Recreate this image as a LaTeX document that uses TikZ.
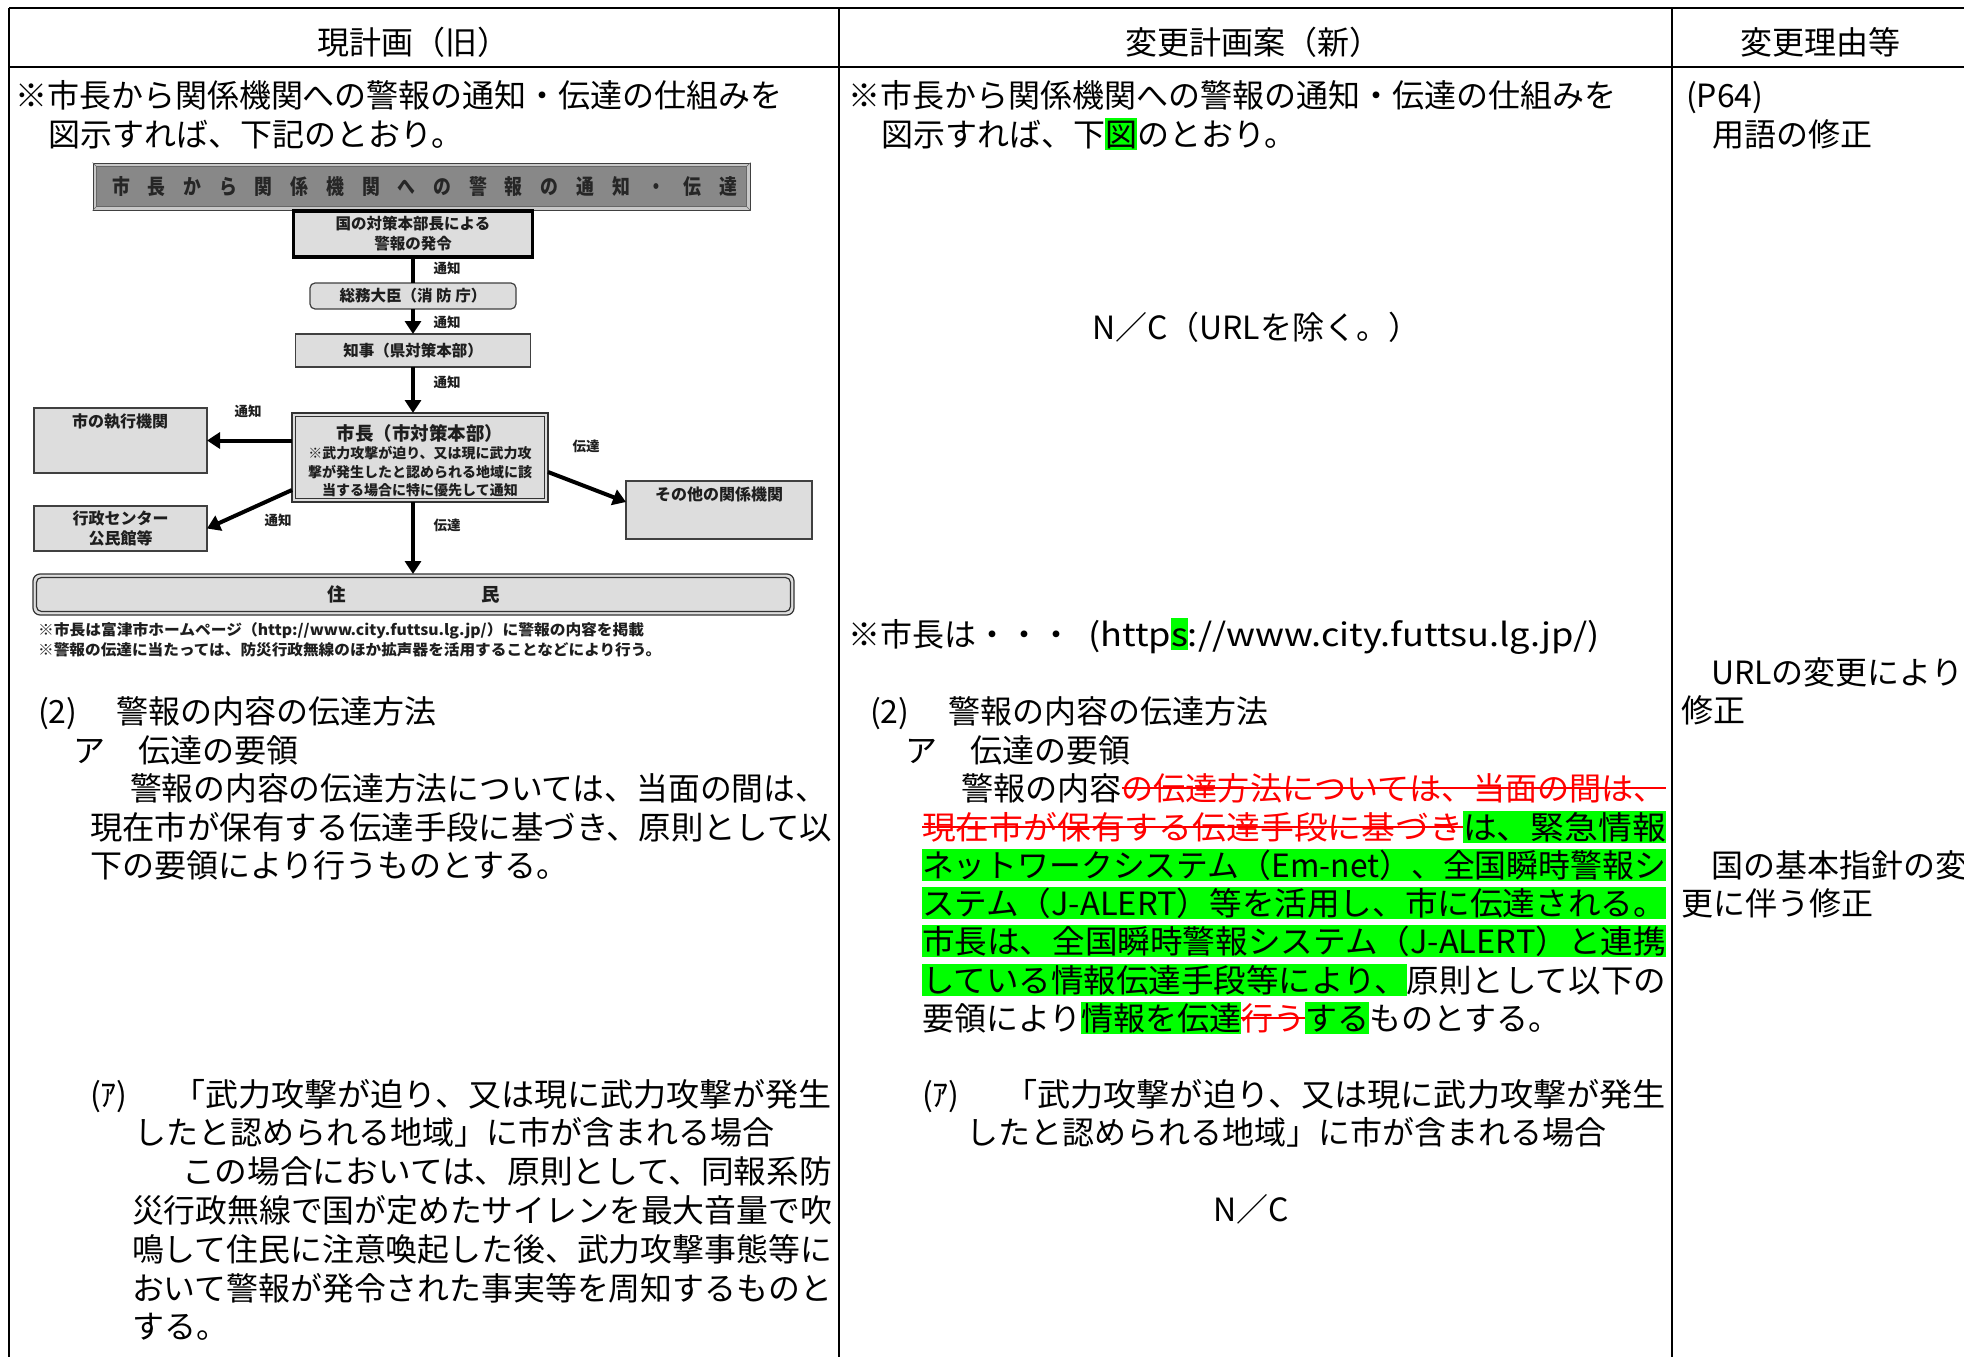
\documentclass[tikz,border=0pt]{standalone}
\usepackage{fontspec}
\setmainfont{Noto Sans CJK JP}
\usepackage{graphicx}
\usetikzlibrary{arrows.meta}
\definecolor{hlgreen}{RGB}{0,255,0}
\definecolor{strikered}{RGB}{255,0,0}
\definecolor{boxgray}{RGB}{221,221,221}
\definecolor{bargray}{RGB}{136,136,136}
\definecolor{bevelgray}{RGB}{200,200,200}
\definecolor{dtext}{RGB}{30,30,30}
\newcommand\hlg[1]{{\setlength{\fboxsep}{0pt}\colorbox{hlgreen}{\rule[-0.14em]{0pt}{1em}\raisebox{0pt}[0pt][0pt]{#1}}}}
\newcommand\stk[1]{{\color{strikered}\setbox0=\hbox{#1}\rlap{\rule[0.35em]{\wd0}{0.06em}}\box0}}
\newcommand\fitw[2]{\resizebox{#1}{\height}{#2}}
\tikzset{
  body/.style={anchor=base west, inner sep=0pt, outer sep=0pt, font=\fontsize{32}{38}\selectfont},
  hd/.style={anchor=base, inner sep=0pt, outer sep=0pt, font=\fontsize{32}{38}\selectfont},
  tablerule/.style={line width=2pt, black},
  dbox/.style={draw=black!75, line width=1.2pt, fill=boxgray, inner sep=0pt, outer sep=0pt, text=dtext, align=center, font=\fontsize{15.5}{20}\bfseries\selectfont},
  dtxt/.style={inner sep=0pt, outer sep=0pt, text=dtext, align=center, font=\fontsize{16}{20}\bfseries\selectfont},
  arr/.style={line width=4pt, black, -{Triangle[length=13pt,width=16pt]}},
  con/.style={line width=4pt, black},
  lbl/.style={inner sep=0pt, text=dtext, font=\fontsize{13.5}{16}\bfseries\selectfont},
  note/.style={anchor=base west, inner sep=0pt, text=dtext, font=\fontsize{15}{18}\bfseries\selectfont},
}
\begin{document}
\begin{tikzpicture}[x=1pt,y=-1pt]
\useasboundingbox (0,0) rectangle (1964,1357);
\fill[white] (0,0) rectangle (1964,1357);

% ---------- table ----------
\draw[tablerule] (9,8) -- (1964,8);
\draw[tablerule] (9,67) -- (1964,67);
\draw[tablerule] (9,8) -- (9,1357);
\draw[tablerule] (839,8) -- (839,1357);
\draw[tablerule] (1672,8) -- (1672,1357);

\node[hd] (h1) at (413,54) {現計画（旧）};
\node[hd] (h2) at (1253,54) {変更計画案（新）};
\node[hd] (h3) at (1820,54) {変更理由等};

% ---------- left column ----------
\node[body] (l1) at (15,107) {※市長から関係機関への警報の通知・伝達の仕組みを};
\node[body] (l2) at (48,146) {図示すれば、下記のとおり。};

% diagram
\node[draw=black!75, line width=1pt, fill=bevelgray, minimum width=657pt, minimum height=47pt, inner sep=0pt] (tbar) at (421.5,186.5) {};
\draw[black!60, line width=0.8pt, fill=bargray] ([shift={(4,4)}]tbar.north west) rectangle ([shift={(-4,-4)}]tbar.south east);
\draw[black!60, line width=0.6pt] (tbar.north west) -- ([shift={(4,4)}]tbar.north west);
\draw[black!60, line width=0.6pt] (tbar.north east) -- ([shift={(-4,4)}]tbar.north east);
\draw[black!60, line width=0.6pt] (tbar.south west) -- ([shift={(4,-4)}]tbar.south west);
\draw[black!60, line width=0.6pt] (tbar.south east) -- ([shift={(-4,-4)}]tbar.south east);
\node[inner sep=0pt, text=black!85, font=\fontsize{21}{22}\bfseries\selectfont] (ttext) at (424.5,186.5) {\fitw{625pt}{市　長　か　ら　関　係　機　関　へ　の　警　報　の　通　知　・　伝　達}};

\node[dbox, draw=black, line width=3.5pt, minimum width=239pt, minimum height=46pt] (kuni) at (413,234) {国の対策本部長による\\警報の発令};
\node[dbox, rounded corners=5pt, minimum width=206pt, minimum height=26pt] (somu) at (413,296) {総務大臣（消 防 庁）};
\node[dbox, minimum width=235pt, minimum height=33pt] (chiji) at (413,350.5) {知事（県対策本部）};

\node[dbox, draw=black!80, minimum width=256pt, minimum height=89pt] (shicho) at (420,457.5) {};
\draw[black!80, line width=1.2pt] ([shift={(3.5,3.5)}]shicho.north west) rectangle ([shift={(-3.5,-3.5)}]shicho.south east);
\node[dtxt, font=\fontsize{18.5}{22}\bfseries\selectfont] (shichoT) at (420,433) {市長（市対策本部）};
\node[dtxt, font=\fontsize{14}{18.5}\bfseries\selectfont] (shichoN) at (420,472) {※武力攻撃が迫り、又は現に武力攻\\撃が発生したと認められる地域に該\\当する場合に特に優先して通知};

\node[dbox, minimum width=173pt, minimum height=65pt] (shikko) at (120.5,440.5) {};
\node[dtxt] (shikkoT) at (120,422) {市の執行機関};
\node[dbox, font=\fontsize{16}{20}\bfseries\selectfont, minimum width=173pt, minimum height=45pt] (gyosei) at (120.5,528.5) {行政センター\\公民館等};
\node[dbox, minimum width=186pt, minimum height=58pt] (sonota) at (719,510) {};
\node[dtxt] (sonotaT) at (719,494) {その他の関係機関};

\node[dbox, draw=black!80, rounded corners=7pt, minimum width=761pt, minimum height=41pt, font=\fontsize{18.5}{20}\bfseries\selectfont] (jumin) at (413.5,594.5) {住\hspace{135pt}民};
\draw[black!80, line width=1.2pt, rounded corners=5pt] ([shift={(3.5,3.5)}]jumin.north west) rectangle ([shift={(-3.5,-3.5)}]jumin.south east);

% connectors
\draw[con] (kuni.south) -- (somu.north);
\draw[arr] (somu.south) -- (chiji.north);
\draw[arr] (chiji.south) -- (chiji.south |- shicho.north);
\draw[arr] (shicho.west |- shikko.east) -- (shikko.east);
\draw[arr] ([yshift=-32.5pt]shicho.west) -- (gyosei.east);
\draw[arr] ([yshift=-14.5pt]shicho.east) -- ([yshift=8pt]sonota.west);
\draw[arr] (chiji.south |- shicho.south) -- (chiji.south |- jumin.north);

\node[lbl] (t1) at (447,268) {通知};
\node[lbl] (t2) at (447,322) {通知};
\node[lbl] (t3) at (447,382) {通知};
\node[lbl] (t4) at (248,411) {通知};
\node[lbl] (t5) at (278,520) {通知};
\node[lbl] (t6) at (586,446) {伝達};
\node[lbl] (t7) at (447,525) {伝達};

\node[note] (n1) at (38,635) {\fitw{606pt}{※市長は富津市ホームページ（http://www.city.futtsu.lg.jp/）に警報の内容を掲載}};
\node[note] (n2) at (38,655) {\fitw{623pt}{※警報の伝達に当たっては、防災行政無線のほか拡声器を活用することなどにより行う。}};

% left text body
\node[body] (l3a) at (38,723.5) {(2)};
\node[body] (l3b) at (116,723.5) {警報の内容の伝達方法};
\node[body] (l4a) at (73,762) {ア};
\node[body] (l4b) at (138,762) {伝達の要領};
\node[body] (l5) at (130,800) {\fitw{697pt}{警報の内容の伝達方法については、当面の間は、}};
\node[body] (l6) at (90,839) {\fitw{742pt}{現在市が保有する伝達手段に基づき、原則として以}};
\node[body] (l7) at (90,877) {下の要領により行うものとする。};
\node[body] (l8a) at (90,1106) {(ｱ)};
\node[body] (l8b) at (172,1106) {\fitw{660pt}{「武力攻撃が迫り、又は現に武力攻撃が発生}};
\node[body] (l9) at (134,1144) {したと認められる地域」に市が含まれる場合};
\node[body] (l10) at (182,1183) {\fitw{650pt}{この場合においては、原則として、同報系防}};
\node[body] (l11) at (132,1222) {\fitw{700pt}{災行政無線で国が定めたサイレンを最大音量で吹}};
\node[body] (l12) at (132,1261) {\fitw{700pt}{鳴して住民に注意喚起した後、武力攻撃事態等に}};
\node[body] (l13) at (132,1300) {\fitw{700pt}{おいて警報が発令された事実等を周知するものと}};
\node[body] (l14) at (132,1338) {する。};

% ---------- middle column ----------
\node[body] (m1) at (848,107) {※市長から関係機関への警報の通知・伝達の仕組みを};
\node[body] (m2) at (881,146) {図示すれば、下\hlg{図}のとおり。};
\node[body] (m3) at (1092,339) {N／C（URLを除く。）};
\node[body] (m4a) at (848,646) {※市長は・・・};
\node[body] (m4b) at (1088,646) {\fitw{512pt}{(http\hlg{s}://www.city.futtsu.lg.jp/)}};
\node[body] (m5a) at (870,723.5) {(2)};
\node[body] (m5b) at (948,723.5) {警報の内容の伝達方法};
\node[body] (m6a) at (905,762) {ア};
\node[body] (m6b) at (970,762) {伝達の要領};
\node[body] (p1) at (961,800) {\fitw{705pt}{警報の内容\stk{の伝達方法については、当面の間は、}}};
\node[body] (p2) at (922,839) {\fitw{744pt}{\stk{現在市が保有する伝達手段に基づき}\hlg{は、緊急情報}}};
\node[body] (p3) at (922,877) {\fitw{744pt}{\hlg{ネットワークシステム（Em-net）、全国瞬時警報シ}}};
\node[body] (p4) at (922,915) {\fitw{744pt}{\hlg{ステム（J-ALERT）等を活用し、市に伝達される。}}};
\node[body] (p5) at (922,953) {\fitw{744pt}{\hlg{市長は、全国瞬時警報システム（J-ALERT）と連携}}};
\node[body] (p6) at (922,992) {\fitw{744pt}{\hlg{している情報伝達手段等により、}原則として以下の}};
\node[body] (p7) at (922,1030) {要領により\hlg{情報を伝達}\stk{行う}\hlg{する}ものとする。};
\node[body] (m8a) at (922,1106) {(ｱ)};
\node[body] (m8b) at (1004,1106) {\fitw{662pt}{「武力攻撃が迫り、又は現に武力攻撃が発生}};
\node[body] (m9) at (966,1144) {したと認められる地域」に市が含まれる場合};
\node[body] (m10) at (1213,1221) {N／C};

% ---------- right column ----------
\node[body] (r1) at (1686,107) {(P64)};
\node[body] (r2) at (1712,146) {用語の修正};
\node[body] (r3) at (1711,684) {URLの変更により};
\node[body] (r4) at (1681,722) {修正};
\node[body] (r5) at (1711,877) {国の基本指針の変};
\node[body] (r6) at (1681,915) {更に伴う修正};
\end{tikzpicture}
\end{document}
